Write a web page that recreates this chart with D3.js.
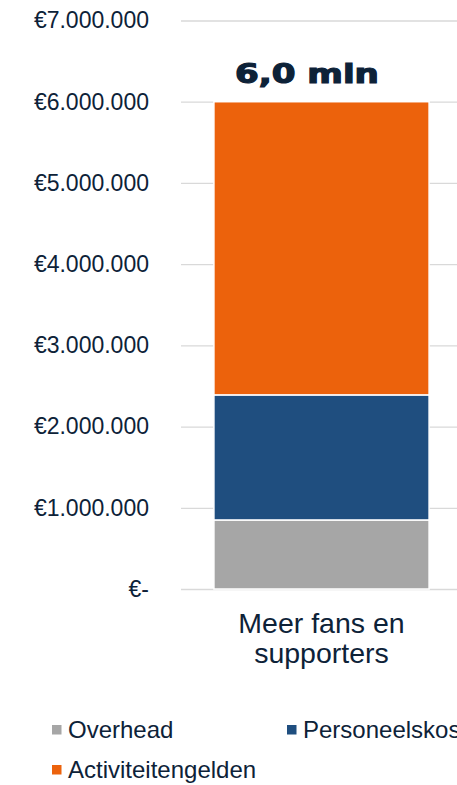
<!DOCTYPE html>
<html>
<head>
<meta charset="utf-8">
<script src="https://cdn.jsdelivr.net/npm/d3@7"></script>
<style>
  body { margin: 0; background: #fff; }
  svg { display: block; }
  text { font-family: "Liberation Sans", Arial, sans-serif; fill: #0d2238; }
</style>
</head>
<body>
<svg></svg>
<script>
let categories = ['Meer fans en supporters'];
let series = ['Overhead', 'Personeelskosten', 'Activiteitengelden'];
let overhead = [850000];
let personeel = [1540000];
let activiteit = [3610000];
let totalLabels = ['6,0 mln'];
let tickValues = [0, 1000000, 2000000, 3000000, 4000000, 5000000, 6000000, 7000000];
let colors = ['#a6a6a6', '#1f4e7f', '#ec620c'];

let width = 457;
let height = 785;

let rows = categories.map((c, i) => ({
  cat: c,
  Overhead: overhead[i],
  Personeelskosten: personeel[i],
  Activiteitengelden: activiteit[i]
}));

let stacked = d3.stack().keys(series)(rows);

let svg = d3.select('svg')
            .attr('width', width)
            .attr('height', height);

let yScale = d3.scaleLinear()
                .domain([0, 7000000])
                .range([589, 20.5]);

let xScale = d3.scaleBand()
                .domain(categories)
                .range([181, 462])
                .paddingInner(0)
                .paddingOuter(0.153);

let color = d3.scaleOrdinal().domain(series).range(colors);

let fmt = d => d === 0 ? '€-' : '€' + d3.format(',')(d).replace(/,/g, '.');

// gridlines
svg.append('g')
    .attr('transform', 'translate(181,0)')
    .call(d3.axisRight(yScale).tickValues(tickValues).tickSize(width - 181).tickFormat(''))
    .call(g => g.select('.domain').remove())
    .call(g => g.selectAll('line').attr('stroke', '#d9d9d9').attr('stroke-width', 1.3));

// y axis labels
svg.append('g')
    .attr('transform', 'translate(149,0)')
    .call(d3.axisLeft(yScale).tickValues(tickValues).tickSize(0).tickPadding(0).tickFormat(fmt))
    .call(g => g.select('.domain').remove())
    .call(g => g.selectAll('text')
      .attr('font-size', 23)
      .attr('fill', '#0d2238')
      .attr('font-family', '"Liberation Sans", Arial, sans-serif'));

// bars
svg.append('g')
  .selectAll('g')
  .data(stacked)
  .enter()
  .append('g')
    .attr('fill', d => color(d.key))
  .selectAll('rect')
  .data(d => d)
  .enter()
  .append('rect')
    .attr('x', d => xScale(d.data.cat))
    .attr('width', xScale.bandwidth())
    .attr('y', d => yScale(d[1]))
    .attr('height', d => yScale(d[0]) - yScale(d[1]))
    .attr('stroke', '#fff')
    .attr('stroke-width', 1.5);

// total label
let topLayer = stacked[stacked.length - 1];
svg.append('g')
  .selectAll('text')
  .data(topLayer)
  .enter()
  .append('text')
    .attr('x', d => xScale(d.data.cat) + 21)
    .attr('y', d => yScale(d[1]) - 19)
    .attr('textLength', 144)
    .attr('lengthAdjust', 'spacingAndGlyphs')
    .style('font-family', '"DejaVu Sans", sans-serif')
    .style('font-weight', 'bold')
    .style('font-size', '27px')
    .style('stroke', '#0d2238')
    .style('stroke-width', 1.2)
    .text((d, i) => totalLabels[i]);

// category label
let catText = svg.append('g')
  .selectAll('text')
  .data(categories)
  .enter()
  .append('text')
    .attr('text-anchor', 'middle')
    .attr('font-size', 28.5)
    .attr('x', d => xScale(d) + xScale.bandwidth() / 2)
    .attr('y', 633);
catText.append('tspan').attr('x', d => xScale(d) + xScale.bandwidth() / 2).text('Meer fans en');
catText.append('tspan').attr('x', d => xScale(d) + xScale.bandwidth() / 2).attr('dy', 30).text('supporters');

// legend
let legendPos = [[52, 738], [287, 738], [52, 778]];
let legend = svg.append('g')
  .selectAll('g')
  .data(series)
  .enter()
  .append('g')
    .attr('transform', (d, i) => `translate(${legendPos[i][0]},${legendPos[i][1]})`);

legend.append('rect')
    .attr('x', 0)
    .attr('y', -13)
    .attr('width', 9.5)
    .attr('height', 9.5)
    .attr('fill', d => color(d));

legend.append('text')
    .attr('x', 16)
    .attr('y', 0)
    .attr('font-size', 24)
    .text(d => d);
</script>
</body>
</html>
